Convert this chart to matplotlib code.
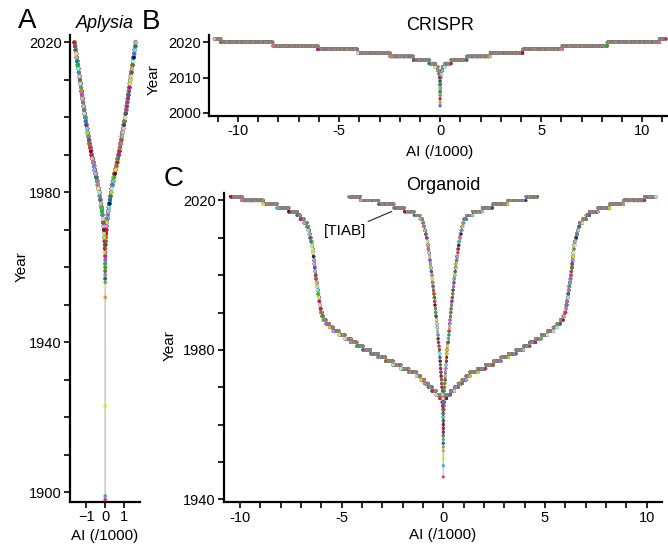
import numpy as np
import matplotlib
matplotlib.use("Agg")
import matplotlib.pyplot as plt

plt.rcParams['font.family'] = ['Liberation Sans', 'DejaVu Sans']

# papers per year (both sides together)
aplysia_years = [1898, 1899, 1923, 1952] + list(range(1955, 2021))
aplysia_counts = [1, 1, 1, 1,
                  1, 1, 2, 2, 2, 2, 3, 3, 4, 5,
                  8, 12, 16, 20, 24, 28,
                  36, 40, 44, 48, 52,
                  56, 60, 62, 64, 66,
                  72, 76, 78, 80, 82, 82, 84, 84, 82, 80,
                  72, 70, 70, 68, 68, 68, 66, 66, 66, 66,
                  58, 58, 56, 56, 56, 56, 54, 54, 54, 54,
                  58, 58, 58, 58, 58, 58, 58, 58, 58, 58]

crispr_years = list(range(2002, 2022))
crispr_counts = [2, 2, 3, 3, 4, 5, 6, 8, 30, 50, 110, 260, 600, 1550, 2340,
                 3200, 3920, 4460, 5160, 640]

organoid_years = [1946, 1949, 1951] + list(range(1953, 2022))
organoid_counts = [1, 1, 1,
                   1, 2, 2, 2, 3, 3, 4, 4, 5, 5, 6, 8, 12,
                   60, 200, 380, 400, 380, 380, 380, 380,
                   780, 760, 780, 740, 740, 740, 740,
                   600, 580, 580, 580, 580, 380, 320, 280,
                   120, 110,
                   62, 58, 56, 54, 56, 54, 56, 54, 54,
                   42, 40, 40, 38, 40, 40, 42, 42,
                   70, 80, 90, 94, 100, 106,
                   300, 360, 320, 820, 1160, 1360, 2080, 1120]

tiab_years = [1957, 1959, 1961, 1962, 1963, 1964, 1965] + list(range(1966, 2022))
tiab_counts = [1, 1, 1, 1, 2, 2, 3,
               6, 24, 28, 30, 32, 30, 30,
               24, 24, 26, 24, 26, 24, 26, 26,
               48, 50,
               32, 32, 34, 32, 34, 32, 34, 32, 34,
               38, 40, 38, 40, 40, 40, 42, 40, 42,
               46, 48, 48, 48, 50, 48, 50, 50, 52,
               80, 84, 86, 90,
               100, 260, 580, 960, 1020, 1500, 1780, 1160]

palette = ['#e6194b', '#3cb44b', '#ffe119', '#4363d8', '#f58231', '#911eb4',
           '#46f0f0', '#f032e6', '#bcf60c', '#fabebe', '#008080', '#e6beff',
           '#9a6324', '#c8c8a0', '#800000', '#aaffc3', '#808000', '#ffd8b1',
           '#000075', '#808080', '#2f4f4f', '#ff69b4', '#7fffd4', '#6a5acd',
           '#1e90ff', '#00c000', '#ff0000', '#c0c0ff', '#a0522d']

W, H = 668, 546


def rect(l, r, t, b):
    return [l / W, 1 - b / H, (r - l) / W, (b - t) / H]


def tree(ax, years, counts, line_col, line_w, size=5, z=2, offset=0):
    y = np.repeat(years, counts).astype(float)
    i = np.arange(len(y))
    side = np.where(i % 2 == 0, -1, 1)
    x = side * (i // 2 + 1) / 1000.0
    # spread colours over the papers (multiplicative hash of the index)
    idx = ((i + offset) * 2654435761 % 4294967296) >> 7
    cols = [palette[k % len(palette)] for k in idx]
    for s in (-1, 1):
        m = side == s
        ax.plot(x[m], y[m], color=line_col, lw=line_w, zorder=z)
    ax.scatter(x, y, s=size, c=cols, linewidths=0, alpha=0.85, zorder=z + 1)


def style(ax):
    for sp in ('top', 'right'):
        ax.spines[sp].set_visible(False)
    for sp in ('left', 'bottom'):
        ax.spines[sp].set_linewidth(1.6)
    ax.tick_params(length=4, width=1.2, labelsize=10.5, pad=2)


fig = plt.figure(figsize=(6.68, 5.46), dpi=100)

# A
axA = fig.add_axes(rect(70, 140, 35, 502))
tree(axA, aplysia_years, aplysia_counts, '#c8c8c8', 0.8, size=7)
axA.set_xlim(-1.87, 1.85)
axA.set_ylim(1897.4, 2022)
axA.set_xticks([-1, 0, 1])
axA.set_yticks(range(1900, 2021, 10))
axA.set_yticklabels([str(v) if v % 40 == 20 else '' for v in range(1900, 2021, 10)])
style(axA)

# B
axB = fig.add_axes(rect(209, 670, 35, 116))
tree(axB, crispr_years, crispr_counts, '#bdbdbd', 0.8)
axB.set_xlim(-11.44, 11.38)
axB.set_ylim(1999.1, 2022.1)
axB.set_xticks(range(-11, 12))
axB.set_xticklabels([str(v) if v % 5 == 0 else '' for v in range(-11, 12)])
axB.set_yticks([2000, 2010, 2020])
style(axB)

# C
axC = fig.add_axes(rect(224.3, 661.7, 193, 502.3))
tree(axC, organoid_years, organoid_counts, '#bdbdbd', 0.8)
tree(axC, tiab_years, tiab_counts, '#333333', 0.6, size=4, z=4, offset=5)
axC.set_xlim(-10.77, 10.74)
axC.set_ylim(1939.2, 2022)
axC.set_xticks(range(-10, 11))
axC.set_xticklabels([str(v) if v % 5 == 0 else '' for v in range(-10, 11)])
axC.set_yticks(range(1940, 2021, 10))
axC.set_yticklabels([str(v) if v % 40 == 20 else '' for v in range(1940, 2021, 10)])
style(axC)
axC.plot([-3.69, -2.54], [2014.4, 2017.05], color='#222222', lw=0.8, zorder=6)
axC.text(-4.84, 2011.9, '[TIAB]', ha='center', va='center', fontsize=11)


def ftext(px, py, s, **kw):
    fig.text(px / W, 1 - py / H, s, ha='center', va='center', **kw)


ftext(27, 21, 'A', fontsize=20)
ftext(151, 22, 'B', fontsize=20)
ftext(174, 179, 'C', fontsize=20)
ftext(105, 24, 'Aplysia', fontsize=13, style='italic')
ftext(440, 25, 'CRISPR', fontsize=13)
ftext(443, 186, 'Organoid', fontsize=13)
ftext(22, 267, 'Year', fontsize=11, rotation=90)
ftext(154, 80, 'Year', fontsize=11, rotation=90)
ftext(170, 346, 'Year', fontsize=11, rotation=90)
ftext(105, 536, 'AI (/1000)', fontsize=11)
ftext(440, 152, 'AI (/1000)', fontsize=11)
ftext(443, 535, 'AI (/1000)', fontsize=11)

fig.savefig('out.png', dpi=100)
